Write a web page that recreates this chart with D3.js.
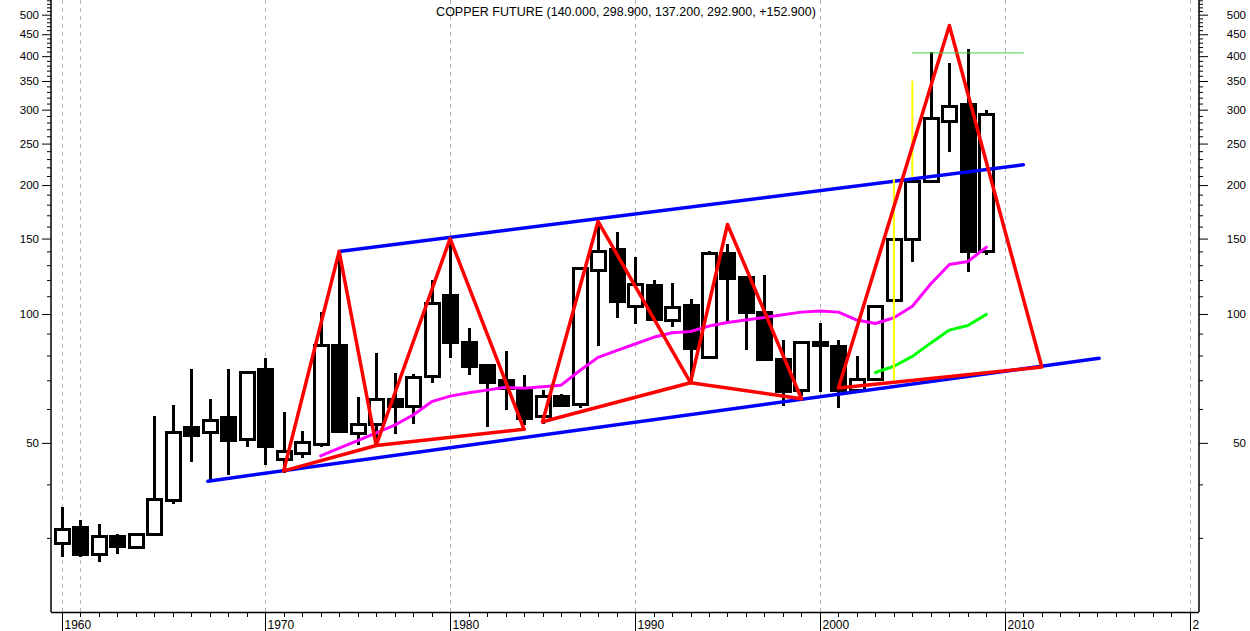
<!DOCTYPE html>
<html>
<head>
<meta charset="utf-8">
<script src="https://cdn.jsdelivr.net/npm/d3@7"></script>
<style>
  html, body { margin: 0; padding: 0; background: #fff; }
  svg { display: block; font-family: 'Liberation Sans', Arial, sans-serif; }
</style>
</head>
<body>
<div id="chart"></div>
<script>
// yearly candles, copper future (cents/lb)
const years = [1959, 1960, 1961, 1962, 1963, 1964, 1965, 1966, 1967, 1968, 1969, 1970, 1971, 1972, 1973, 1974,
  1975, 1976, 1977, 1978, 1979, 1980, 1981, 1982, 1983, 1984, 1985, 1986, 1987, 1988, 1989, 1990, 1991, 1992,
  1993, 1994, 1995, 1996, 1997, 1998, 1999, 2000, 2001, 2002, 2003, 2004, 2005, 2006, 2007, 2008, 2009];
const opens = [29.2, 31.8, 27.5, 30.3, 28.5, 30.6, 36.9, 54.6, 52.9, 57.4, 51.0, 74.2, 45.8, 47.4, 49.7, 84.7,
  52.7, 55.4, 63.3, 61.1, 71.4, 110.9, 86.1, 76.1, 70.2, 66.4, 57.5, 64.2, 61.6, 126.7, 141.8, 104.7, 117, 97,
  104.7, 79.5, 139.1, 121.7, 101, 78.5, 66.4, 86, 84, 66.5, 70.2, 107.8, 149.8, 204, 282.6, 310, 140];
const highs = [35.4, 33.0, 32.3, 30.7, 30.8, 57.8, 61.3, 74.2, 63.3, 74.2, 73.7, 78.8, 59.0, 53.4, 101.3, 140,
  64.0, 81.0, 72.8, 72.4, 120.2, 150.7, 92.9, 76.5, 82.1, 72.2, 66.4, 65, 128.5, 164.5, 155.8, 135.8, 120.2, 118,
  108.2, 140, 146, 122.5, 123.3, 87.1, 86.5, 95.1, 87.1, 79.8, 105, 150.5, 206, 409.5, 385.6, 416, 298.9];
const lows = [27.1, 27.1, 26.4, 27.5, 28.4, 30.3, 35.9, 45.0, 40.6, 42.1, 49.0, 44.3, 42.5, 46.1, 49.0, 52.9,
  49.5, 50.0, 52.5, 55.4, 69.0, 79.1, 72.2, 54.6, 59.6, 55.1, 55.4, 60.5, 60.4, 84.0, 98.0, 95, 96.5, 93.4,
  69.6, 78.5, 96, 82.5, 77.9, 60.9, 64.2, 65.7, 60.4, 65.4, 69.6, 107, 132.6, 204, 238.6, 125, 137.2];
const closes = [31.5, 27.5, 30.3, 28.7, 30.6, 36.9, 53.1, 52.2, 56.5, 50.8, 73.1, 49.0, 47.9, 50.3, 84.7, 53.4,
  55.4, 63.3, 60.9, 71.4, 106, 86.3, 75.7, 69.6, 67.4, 57.2, 64.2, 61.3, 128, 140, 107.1, 117.6, 97.2, 104,
  83, 139.1, 121.7, 101, 78.5, 66.2, 86, 84.4, 66.2, 70.4, 104.2, 149.8, 204.9, 286.5, 306.6, 140.4, 292.9];

// moving averages
const slowMaYears = [1973, 1974, 1975, 1976, 1977, 1978, 1979, 1980, 1981, 1982, 1983, 1984, 1985, 1986, 1987,
  1988, 1989, 1990, 1991, 1992, 1993, 1994, 1995, 1996, 1997, 1998, 1999, 2000, 2001, 2002, 2003, 2004, 2005,
  2006, 2007, 2008, 2009];
const slowMaValues = [46.6, 48.6, 50.6, 52.8, 55.0, 58.1, 62.4, 64.3, 65.5, 66.4, 67.4, 67.1, 67.6, 68.2, 73.7,
  79.2, 82.1, 85.1, 88.2, 90.4, 91.0, 93.7, 95.5, 96.8, 98.1, 99.6, 101, 101.6, 101, 96.8, 95.0, 98.0, 104.2,
  117.6, 130.5, 132.6, 143.2];
const fastMaYears = [2003, 2004, 2005, 2006, 2007, 2008, 2009];
const fastMaValues = [73.0, 75.5, 79.6, 85.6, 91.7, 94.0, 99.8];

// trend channel [year, price]
const upperChannel = [[1974, 140], [2011, 223]];
const lowerChannel = [[1966.9, 40.7], [2015.1, 78.8]];

// red swing patterns [year, price]
const swingA = [[1971, 43], [1974, 140], [1976, 49.3], [1980, 150], [1984, 53.8]];
const swingABase = [[1971, 43], [1976, 49.3], [1984, 53.8]];
const swingB = [[1985, 56], [1988, 164.5], [1993, 69.1], [1995, 161.8], [1999, 63.4]];
const swingBBase = [[1985, 56], [1993, 69.1], [1999, 63.4]];
const swingC = [[2001, 67.2], [2007, 471.6], [2012, 75.2], [2001, 67.2]];

// yellow measuring lines and resistance level
const channelWidthLine = [[2004, 68.9], [2004, 205.8]];
const projectionLine = [[2005, 209.6], [2005, 349]];
const resistanceLine = [[2005, 407], [2011, 407]];

const xTickYears = [1959, 1970, 1980, 1990, 2000, 2010, 2020];
const xTickLabels = ['1960', '1970', '1980', '1990', '2000', '2010', '2020'];
const gridYears = [1959, 1960, 1970, 1980, 1990, 2000, 2010, 2020];
const yLabelValues = [50, 100, 150, 200, 250, 300, 350, 400, 450, 500];

const TITLE = 'COPPER FUTURE (140.000, 298.900, 137.200, 292.900, +152.900)';

const WIDTH = 1250;
const HEIGHT = 631;
const PLOT_LEFT = 51;
const PLOT_RIGHT = 1199;
const PLOT_BOTTOM = 612;
const CANDLE_WIDTH = 14;

const x = d3.scaleLinear().domain([1958.415, 2020.5]).range([PLOT_LEFT, PLOT_RIGHT]);
const y = d3.scaleLog().domain([20.14, 541]).range([PLOT_BOTTOM, 0]);

// snap to half pixels so 1px / 3px strokes stay crisp
const crisp = (v) => Math.round(v) + 0.5;

const svg = d3.select('#chart').append('svg').attr('width', WIDTH).attr('height', HEIGHT);

svg.append('defs').append('clipPath').attr('id', 'plot-clip')
  .append('rect').attr('x', PLOT_LEFT).attr('y', 0).attr('width', PLOT_RIGHT - PLOT_LEFT).attr('height', PLOT_BOTTOM);
svg.select('defs').append('clipPath').attr('id', 'xlabel-clip')
  .append('rect').attr('x', 0).attr('y', PLOT_BOTTOM).attr('width', PLOT_RIGHT).attr('height', HEIGHT - PLOT_BOTTOM);

drawGrid();
const plot = svg.append('g').attr('clip-path', 'url(#plot-clip)');
drawCandles();
drawOverlays();
drawXAxis();
drawYAxis('left');
drawYAxis('right');

svg.append('text')
  .attr('x', 626).attr('y', 16)
  .attr('text-anchor', 'middle')
  .attr('font-size', '12.5px')
  .attr('fill', '#000')
  .text(TITLE);

function drawGrid() {
  svg.append('g').selectAll('line').data(gridYears).join('line')
    .attr('x1', (d) => crisp(x(d))).attr('x2', (d) => crisp(x(d)))
    .attr('y1', 0).attr('y2', PLOT_BOTTOM)
    .attr('stroke', '#b4b4b4').attr('stroke-width', 1).attr('stroke-dasharray', '4,4');
}

function drawCandles() {
  const candles = years.map((year, i) => ({ year, open: opens[i], high: highs[i], low: lows[i], close: closes[i] }));

  plot.append('g').selectAll('line').data(candles).join('line')
    .attr('x1', (d) => crisp(x(d.year))).attr('x2', (d) => crisp(x(d.year)))
    .attr('y1', (d) => Math.round(y(d.high))).attr('y2', (d) => Math.round(y(d.low)))
    .attr('stroke', '#000').attr('stroke-width', 3);

  plot.append('g').selectAll('rect').data(candles).join('rect')
    .attr('x', (d) => crisp(x(d.year) - CANDLE_WIDTH / 2))
    .attr('y', (d) => crisp(y(Math.max(d.open, d.close))))
    .attr('width', CANDLE_WIDTH)
    .attr('height', (d) => Math.max(1, Math.round(Math.abs(y(d.open) - y(d.close)))))
    .attr('fill', (d) => (d.close >= d.open ? '#fff' : '#000'))
    .attr('stroke', '#000').attr('stroke-width', 3);
}

function drawOverlays() {
  const line = d3.line().x((d) => x(d[0])).y((d) => y(d[1]));
  const addPath = (points, color, width) => plot.append('path')
    .attr('d', line(points)).attr('fill', 'none')
    .attr('stroke', color).attr('stroke-width', width)
    .attr('stroke-linejoin', 'round').attr('stroke-linecap', 'round');

  addPath(upperChannel, '#0000ff', 3.5);
  addPath(lowerChannel, '#0000ff', 3.5);
  addPath(slowMaYears.map((yr, i) => [yr, slowMaValues[i]]), '#ff00ff', 3);
  addPath(fastMaYears.map((yr, i) => [yr, fastMaValues[i]]), '#00ff00', 3);
  addPath(channelWidthLine, '#ffff00', 2);
  addPath(projectionLine, '#ffff00', 2);
  [swingA, swingABase, swingB, swingBBase, swingC].forEach((points) => addPath(points, '#ff0000', 3.5));
  addPath(resistanceLine, '#44cc44', 1);
}

function drawXAxis() {
  const axis = svg.append('g');
  axis.append('line')
    .attr('x1', PLOT_LEFT).attr('x2', PLOT_RIGHT)
    .attr('y1', PLOT_BOTTOM + 0.5).attr('y2', PLOT_BOTTOM + 0.5)
    .attr('stroke', '#000').attr('stroke-width', 1.5);

  const minorYears = d3.range(1960, 2021).filter((yr) => !xTickYears.includes(yr));
  axis.append('g').selectAll('line').data(minorYears).join('line')
    .attr('x1', (d) => crisp(x(d))).attr('x2', (d) => crisp(x(d)))
    .attr('y1', PLOT_BOTTOM).attr('y2', PLOT_BOTTOM + 5)
    .attr('stroke', '#000').attr('stroke-width', 1);

  axis.append('g').selectAll('line').data(xTickYears).join('line')
    .attr('x1', (d) => crisp(x(d))).attr('x2', (d) => crisp(x(d)))
    .attr('y1', PLOT_BOTTOM).attr('y2', HEIGHT)
    .attr('stroke', '#000').attr('stroke-width', 1);

  axis.append('g').attr('clip-path', 'url(#xlabel-clip)')
    .selectAll('text').data(xTickYears).join('text')
    .attr('x', (d) => Math.round(x(d)) + 2.5)
    .attr('y', 629)
    .attr('font-size', '12px')
    .attr('fill', '#000')
    .text((d, i) => xTickLabels[i]);
}

function drawYAxis(side) {
  const isLeft = side === 'left';
  const axisX = isLeft ? PLOT_LEFT : PLOT_RIGHT;
  const makeAxis = isLeft ? d3.axisLeft : d3.axisRight;
  const minorTicks = d3.range(30, 550, 10).filter((v) => !yLabelValues.includes(v));

  const g = svg.append('g').attr('transform', `translate(${axisX},0)`);
  g.append('line').attr('x1', 0).attr('x2', 0).attr('y1', 0).attr('y2', PLOT_BOTTOM)
    .attr('stroke', '#000').attr('stroke-width', 1.5);

  g.append('g').call(makeAxis(y).tickValues(minorTicks).tickSize(4).tickSizeOuter(0).tickFormat(''))
    .call((sel) => sel.select('.domain').remove());

  const major = g.append('g')
    .call(makeAxis(y).tickValues(yLabelValues).tickSize(9).tickSizeOuter(0).tickPadding(3).tickFormat(d3.format('d')))
    .call((sel) => sel.select('.domain').remove());

  major.selectAll('text')
    .attr('font-family', "'Liberation Sans', Arial, sans-serif")
    .attr('font-size', '11.5px')
    .attr('fill', '#000');
  if (!isLeft) {
    major.selectAll('text').attr('text-anchor', 'end').attr('x', 1246 - PLOT_RIGHT);
  }
}
</script>
</body>
</html>
